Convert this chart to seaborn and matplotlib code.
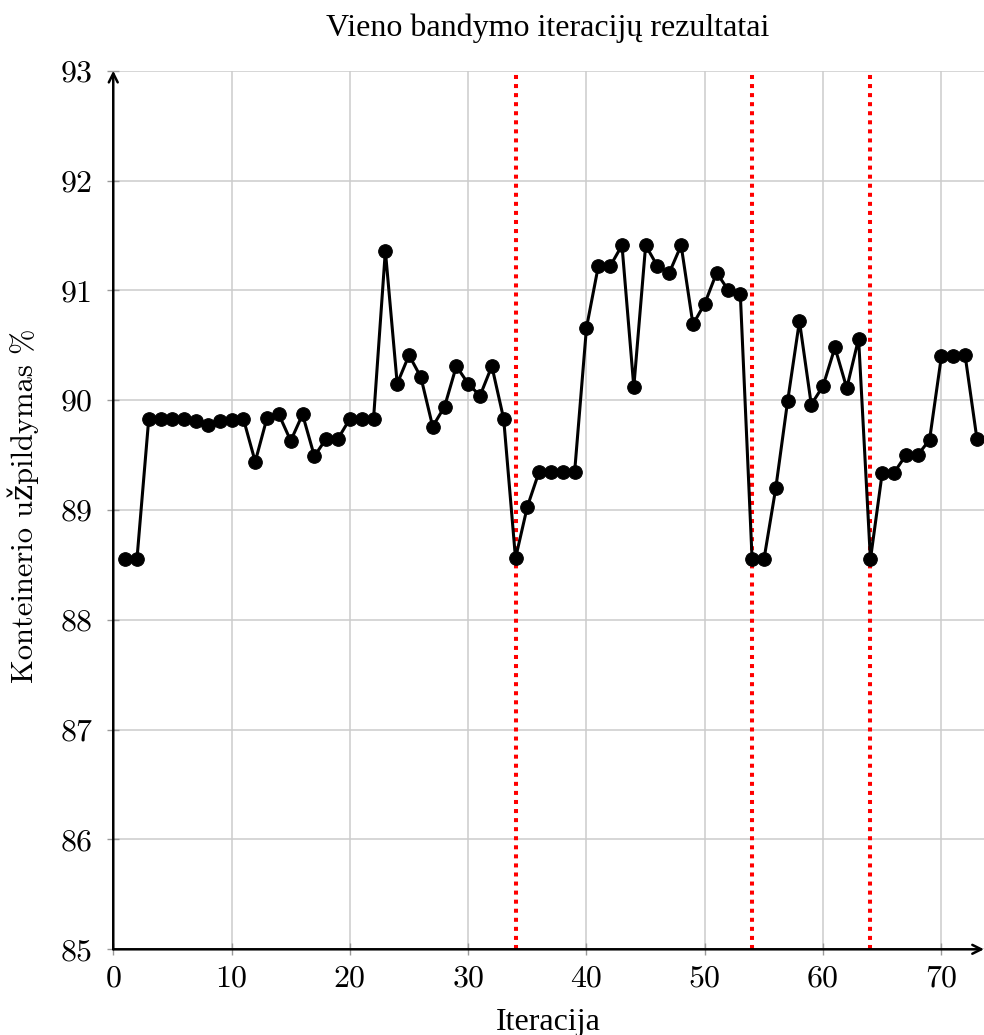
import matplotlib
matplotlib.use("Agg")
import matplotlib.pyplot as plt
import seaborn as sns
import pandas as pd

# Iteration results of a single run
iterations = list(range(1, 74))
fill_pct = [
    88.55, 88.55, 89.83, 89.83, 89.83, 89.83, 89.81, 89.77, 89.81, 89.82,
    89.83, 89.44, 89.84, 89.87, 89.63, 89.87, 89.49, 89.65, 89.65, 89.83,
    89.83, 89.83, 91.36, 90.15, 90.41, 90.21, 89.76, 89.94, 90.31, 90.15,
    90.04, 90.31, 89.83, 88.56, 89.03, 89.35, 89.35, 89.35, 89.35, 90.66,
    91.22, 91.22, 91.41, 90.12, 91.41, 91.22, 91.16, 91.41, 90.69, 90.88,
    91.16, 91.00, 90.97, 88.55, 88.55, 89.20, 89.99, 90.72, 89.96, 90.13,
    90.48, 90.11, 90.56, 88.55, 89.34, 89.34, 89.50, 89.50, 89.64, 90.40,
    90.40, 90.41, 89.65,
]
restart_iterations = [34, 54, 64]
x_ticks = [0, 10, 20, 30, 40, 50, 60, 70]
y_ticks = [85, 86, 87, 88, 89, 90, 91, 92, 93]

title_text = "Vieno bandymo iteracijų rezultatai"
x_label = "Iteracija"
y_label = "Konteinerio užpildymas %"

df = pd.DataFrame({"iteracija": iterations, "uzpildymas": fill_pct})

sns.set_style("whitegrid")
plt.rcParams["font.family"] = ["cmr10", "DejaVu Serif"]
plt.rcParams["axes.formatter.use_mathtext"] = True
plt.rcParams["text.color"] = "black"

fig = plt.figure(figsize=(9.84, 10.35), dpi=100)
ax = fig.add_axes([0.1151, 0.0828, 0.8849, 0.8489])

for xv in restart_iterations:
    ax.axvline(xv, color="red", lw=2.9, linestyle=(0, (1, 1.25)), zorder=2)

sns.lineplot(data=df, x="iteracija", y="uzpildymas", ax=ax, color="black",
             lw=2.2, marker="o", markersize=9.8, markeredgecolor="black",
             markerfacecolor="black", zorder=3, clip_on=False)

ax.set_xlim(0, 73.6)
ax.set_ylim(85, 93)
ax.set_xticks(x_ticks)
ax.set_yticks(y_ticks)
ax.set_xticklabels([str(t) for t in x_ticks])
ax.set_yticklabels([str(t) for t in y_ticks])
ax.grid(True, color="#cccccc", lw=1.1)
ax.set_axisbelow(True)
for s in ax.spines.values():
    s.set_visible(False)
ax.tick_params(axis="both", which="major", direction="inout", length=9,
               width=1.0, color="#999999", labelsize=23, pad=7,
               labelcolor="black", left=True, bottom=True)
ax.tick_params(axis="y", pad=10)
ax.set_xlabel("")
ax.set_ylabel("")

# axis lines with arrow heads
arrow_kw = dict(arrowstyle="->", lw=1.8, color="black", shrinkA=0, shrinkB=0,
                mutation_scale=16)
ax.annotate("", xy=(1.0, 0), xytext=(0, 0), xycoords="axes fraction",
            arrowprops=arrow_kw, annotation_clip=False, zorder=5)
ax.annotate("", xy=(0, 1.0), xytext=(0, 0), xycoords="axes fraction",
            arrowprops=arrow_kw, annotation_clip=False, zorder=5)

fig.text(0.557, 0.9652, title_text, family="Liberation Serif", fontsize=23,
         color="black", ha="center", va="baseline")
fig.text(0.557, 0.0048, x_label, family="Liberation Serif", fontsize=23,
         color="black", ha="center", va="baseline")
fig.text(0.0335, 1 - 506 / 1035, y_label, family=["cmr10", "DejaVu Serif"],
         fontsize=22, color="black", rotation=90, rotation_mode="anchor",
         ha="center", va="baseline")

fig.savefig("out.png", dpi=100)
